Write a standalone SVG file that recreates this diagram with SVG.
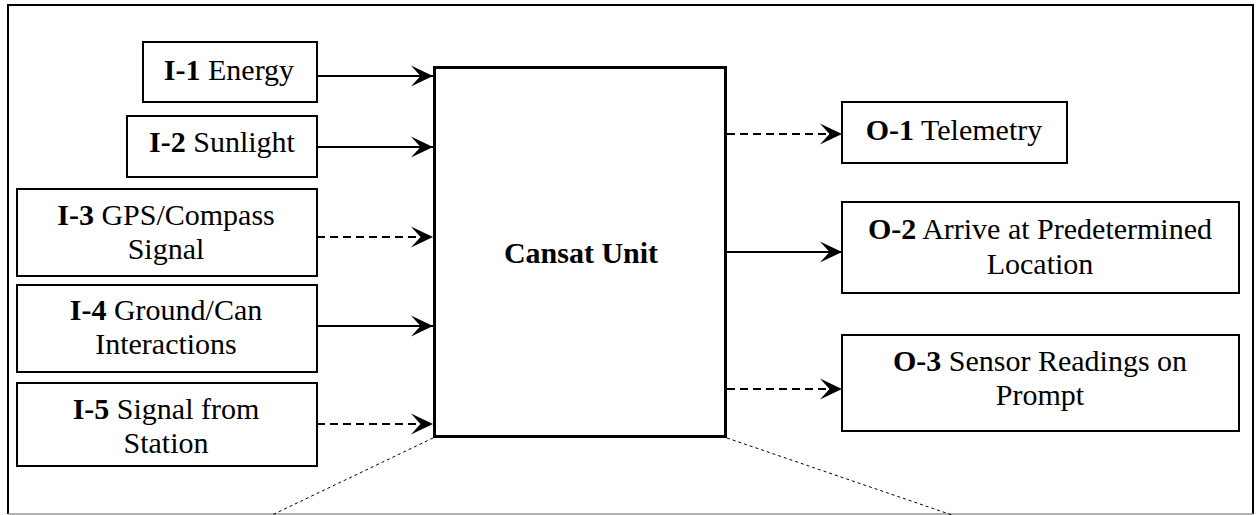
<svg xmlns="http://www.w3.org/2000/svg" width="1256" height="515" viewBox="0 0 1256 515">
<defs>
<style>
.box{fill:#fff;stroke:#000;stroke-width:2}
.main{fill:#fff;stroke:#000;stroke-width:3}
.t{font-family:"Liberation Serif","Times New Roman",serif;font-size:30px;fill:#000;text-anchor:middle}
.b{font-weight:bold}
.c{stroke:#000;stroke-width:2;fill:none}
.d{stroke-dasharray:8 5}
.dot{stroke:#000;stroke-width:1;stroke-dasharray:3 3;fill:none}
</style>
<marker id="ah" markerWidth="24" markerHeight="24" viewBox="-24 -12 25 24" refX="0" refY="0" markerUnits="userSpaceOnUse" orient="auto">
<path d="M0,0 L-23,-11 L-13,0 L-23,11 Z" fill="#000"/>
</marker>
</defs>
<rect width="1256" height="515" fill="#fff"/>
<g id="frame">
<path d="M8,514 L8,5 L1253,5 L1253,514" fill="none" stroke="#000" stroke-width="2"/>
<line x1="8" y1="514" x2="1253" y2="514" stroke="#999" stroke-width="1.5"/>
</g>
<g id="connectors">
<line class="c" x1="317" y1="76" x2="433" y2="76" marker-end="url(#ah)"/>
<line class="c" x1="317" y1="147" x2="433" y2="147" marker-end="url(#ah)"/>
<line class="c d" x1="317" y1="237" x2="433" y2="237" marker-end="url(#ah)"/>
<line class="c" x1="317" y1="326" x2="433" y2="326" marker-end="url(#ah)"/>
<line class="c d" x1="317" y1="424" x2="433" y2="424" marker-end="url(#ah)"/>
<line class="c d" x1="727" y1="134" x2="842" y2="134" marker-end="url(#ah)"/>
<line class="c" x1="727" y1="252" x2="842" y2="252" marker-end="url(#ah)"/>
<line class="c d" x1="727" y1="389" x2="842" y2="389" marker-end="url(#ah)"/>
<line class="dot" x1="433" y1="438" x2="272" y2="515"/>
<line class="dot" x1="727" y1="438" x2="952" y2="515"/>
</g>
<g id="cansat">
<rect class="main" x="434.5" y="67.5" width="291" height="369"/>
<text class="t b" x="581" y="263">Cansat Unit</text>
</g>
<g id="i1">
<rect class="box" x="143" y="42" width="174" height="60"/>
<text class="t" x="229" y="80"><tspan class="b">I-1</tspan> Energy</text>
</g>
<g id="i2">
<rect class="box" x="127" y="116" width="190" height="61"/>
<text class="t" x="222" y="152"><tspan class="b">I-2</tspan> Sunlight</text>
</g>
<g id="i3">
<rect class="box" x="17" y="189" width="300" height="87"/>
<text class="t" x="166" y="225"><tspan class="b">I-3</tspan> GPS/Compass</text>
<text class="t" x="166" y="259">Signal</text>
</g>
<g id="i4">
<rect class="box" x="17" y="285" width="300" height="87"/>
<text class="t" x="166" y="320"><tspan class="b">I-4</tspan> Ground/Can</text>
<text class="t" x="166" y="354">Interactions</text>
</g>
<g id="i5">
<rect class="box" x="17" y="383" width="300" height="83"/>
<text class="t" x="166" y="419"><tspan class="b">I-5</tspan> Signal from</text>
<text class="t" x="166" y="453">Station</text>
</g>
<g id="o1">
<rect class="box" x="842" y="102" width="225" height="61"/>
<text class="t" x="954" y="140"><tspan class="b">O-1</tspan> Telemetry</text>
</g>
<g id="o2">
<rect class="box" x="842" y="202" width="397" height="91"/>
<text class="t" x="1040" y="239"><tspan class="b">O-2</tspan> Arrive at Predetermined</text>
<text class="t" x="1040" y="274">Location</text>
</g>
<g id="o3">
<rect class="box" x="842" y="335" width="397" height="96"/>
<text class="t" x="1040" y="371"><tspan class="b">O-3</tspan> Sensor Readings on</text>
<text class="t" x="1040" y="405">Prompt</text>
</g>
</svg>
